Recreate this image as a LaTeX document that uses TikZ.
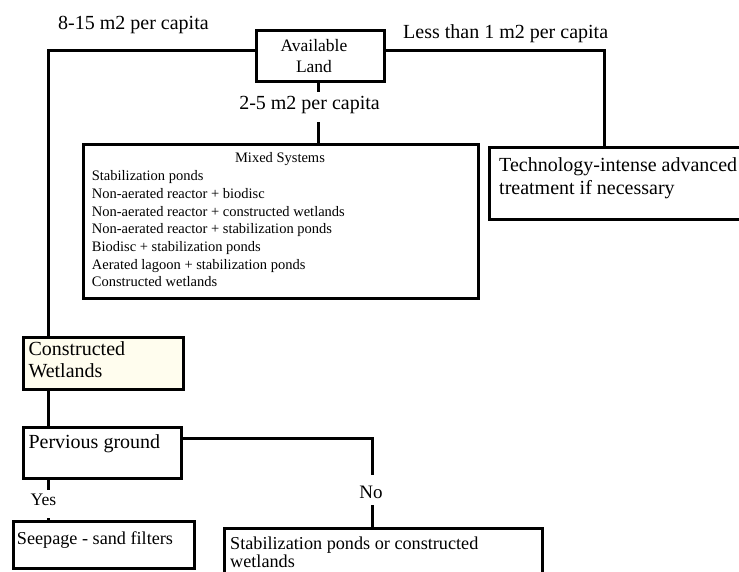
\documentclass[tikz,border=0pt]{standalone}
\usepackage{fontspec}
\setmainfont{Liberation Serif}
\definecolor{cream}{RGB}{255,253,238}
\begin{document}
\begin{tikzpicture}[x=1pt,y=-1pt,
  box/.style={draw=black, line width=2.8pt, inner sep=0pt, anchor=north west},
  conn/.style={draw=black, line width=3pt},
  txt/.style={inner sep=0pt, anchor=base west},
  cut/.style={fill=white, inner xsep=2pt, inner ysep=0pt, anchor=base},
  fbig/.style={font=\fontsize{20}{24}\selectfont},
  fmid/.style={font=\fontsize{18.2}{22}\selectfont},
  fsmall/.style={font=\fontsize{14.5}{17}\selectfont},
]
\clip (0,0) rectangle (739,572);
\fill[white] (0,0) rectangle (739,572);

% boxes
\node[box, minimum width=128pt, minimum height=51pt] (land) at (255,29) {};
\node[box, minimum width=395pt, minimum height=154pt] (mixed) at (82,143) {};
\node[box, minimum width=280pt, minimum height=72pt] (tech) at (488,146) {};
\node[box, fill=cream, minimum width=160pt, minimum height=52pt] (cw) at (22,336) {};
\node[box, minimum width=158pt, minimum height=51pt] (perv) at (22,426) {};
\node[box, minimum width=181pt, minimum height=47pt] (seep) at (12,520) {};
\node[box, minimum width=318pt, minimum height=80pt] (stab) at (223,527) {};

% helper coordinates
\coordinate (xL) at (48,0);
\coordinate (xR) at (604,0);
\coordinate (xM) at (318,0);
\coordinate (xN) at (372,0);
\coordinate (yT) at (0,51);
\coordinate (yP) at (0,438);

% connectors
\draw[conn] (land.west |- yT) -| (cw.north -| xL);
\draw[conn] (land.east |- yT) -| (tech.north -| xR);
\draw[conn] (land.south -| xM) -- (mixed.north -| xM);
\draw[conn] (cw.south -| xL) -- (perv.north -| xL);
\draw[conn] (perv.east |- yP) -| (stab.north -| xN);
\draw[conn] (perv.south -| xL) -- (seep.north -| xL);

% connector labels
\node[txt, fbig] (l815) at (58,29.5) {8-15 m2 per capita};
\node[txt, fbig] (lless) at (403,38.3) {Less than 1 m2 per capita};
\node[cut, fbig, text height=18pt, text depth=12.5pt] (l25) at (309.5,110) {2-5 m2 per capita};
\node[cut, font=\fontsize{17.6}{20}\selectfont, text height=15.5pt, text depth=12.5pt] (lyes) at (43.5,505) {Yes};
\node[cut, font=\fontsize{19}{22}\selectfont, text height=23pt, text depth=6.7pt] (lno) at (371,498.3) {No};

% box texts
\node[inner sep=0pt, anchor=base, font=\fontsize{17.5}{20}\selectfont] (land1) at (314,51.7) {Available};
\node[inner sep=0pt, anchor=base, font=\fontsize{17.5}{20}\selectfont] (land2) at (314,72.3) {Land};

\node[inner sep=0pt, anchor=base, fsmall] (mixt) at (280,162.7) {Mixed Systems};
\foreach \t [count=\i] in {Stabilization ponds,
  Non-aerated reactor + biodisc,
  Non-aerated reactor + constructed wetlands,
  Non-aerated reactor + stabilization ponds,
  Biodisc + stabilization ponds,
  Aerated lagoon + stabilization ponds,
  Constructed wetlands}
  \node[txt, fsmall] (mix\i) at (91.7,{180.7+17.67*(\i-1)}) {\t};

\node[txt, fbig] (tech1) at (499,171.7) {Technology-intense advanced};
\node[txt, fbig] (tech2) at (499,194.3) {treatment if necessary};

\node[txt, fbig] (cw1) at (28.3,355) {Constructed};
\node[txt, fbig] (cw2) at (28.3,377.3) {Wetlands};

\node[txt, fbig] (perv1) at (28.3,448.3) {Pervious ground};

\node[txt, fmid] (seep1) at (16.7,544) {Seepage - sand filters};

\node[txt, fmid] (stab1) at (230,549) {Stabilization ponds or constructed};
\node[txt, fmid] (stab2) at (230,567) {wetlands};
\end{tikzpicture}
\end{document}
